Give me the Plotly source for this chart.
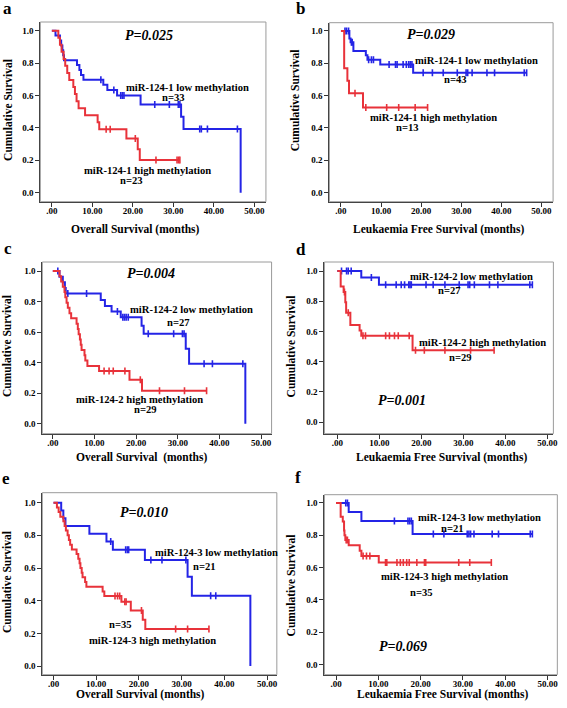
import plotly.graph_objects as go

W, H = 567, 708

# ------------------------------------------------------------------ data
x_ticks = [0, 10, 20, 30, 40, 50]
x_tick_labels = [".00", "10.00", "20.00", "30.00", "40.00", "50.00"]
y_ticks = [0.0, 0.2, 0.4, 0.6, 0.8, 1.0]
y_tick_labels = ["0.0", "0.2", "0.4", "0.6", "0.8", "1.0"]

panel_letters = ["a", "b", "c", "d", "e", "f"]
x_titles = ["Overall Survival (months)", "Leukaemia Free Survival (months)",
            "Overall Survival\u00a0 (months)", "Leukaemia Free Survival (months)",
            "Overall Survival (months)", "Leukaemia Free Survival (months)"]
y_title = "Cumulative Survival"
p_values = ["P=0.025", "P=0.029", "P=0.004", "P=0.001", "P=0.010", "P=0.069"]
low_labels = ["miR-124-1 low methylation", "miR-124-1 low methylation",
              "miR-124-2 low methylation", "miR-124-2 low methylation",
              "miR-124-3 low methylation", "miR-124-3 low methylation"]
high_labels = ["miR-124-1 high methylation", "miR-124-1 high methylation",
               "miR-124-2 high methylation", "miR-124-2 high methylation",
               "miR-124-3 high methylation", "miR-124-3 high methylation"]
low_n = [33, 43, 27, 27, 21, 21]
high_n = [23, 13, 29, 29, 35, 35]

# panel a : overall survival, miR-124-1
a_low_time = [0.9, 2.0, 2.3, 2.6, 2.8, 3.0, 6.2, 6.8, 7.2, 7.8, 12.7, 13.7, 16.1, 21.9, 31.9, 32.5, 46.6]
a_low_surv = [0.970, 0.939, 0.909, 0.879, 0.848, 0.818, 0.788, 0.758, 0.727, 0.697, 0.666, 0.634, 0.600, 0.545, 0.468, 0.393, 0.0]
a_low_cens = [12.1, 15.3, 17.0, 17.4, 17.8, 25.4, 29.0, 31.2, 31.6, 36.5, 36.9, 38.4, 45.8]
a_high_time = [1.6, 2.0, 2.4, 2.9, 3.3, 3.8, 4.3, 5.3, 5.7, 6.1, 6.6, 8.2, 11.3, 11.7, 18.4, 21.2, 21.7]
a_high_surv = [0.957, 0.913, 0.870, 0.826, 0.783, 0.739, 0.696, 0.652, 0.609, 0.565, 0.522, 0.478, 0.435, 0.391, 0.335, 0.268, 0.201]
a_high_cens = [13.4, 14.4, 20.6, 25.7, 30.9, 31.3, 31.6]

# panel b : leukaemia free survival, miR-124-1
b_low_time = [2.1, 2.4, 3.1, 6.2, 6.6, 9.8, 18.0]
b_low_surv = [0.953, 0.930, 0.876, 0.849, 0.822, 0.792, 0.741]
b_low_cens = [1.0, 1.4, 1.9, 2.6, 2.8, 6.9, 7.6, 8.1, 12.0, 13.6, 14.0, 15.5, 16.3, 16.9, 17.3, 17.7,
              20.5, 22.8, 25.5, 29.0, 31.2, 31.6, 32.7, 36.4, 38.3, 45.7, 46.3]
b_high_time = [0.8, 1.6, 2.0, 5.5]
b_high_surv = [0.769, 0.692, 0.615, 0.527]
b_high_cens = [3.5, 6.2, 11.4, 14.4, 18.5, 21.6]

# panel c : overall survival, miR-124-2
c_low_time = [1.6, 2.4, 2.9, 3.1, 11.5, 12.5, 14.1, 16.3, 21.3, 21.8, 31.9, 32.7, 46.2]
c_low_surv = [0.963, 0.926, 0.889, 0.852, 0.811, 0.771, 0.735, 0.697, 0.642, 0.589, 0.491, 0.393, 0.0]
c_low_cens = [1.2, 3.6, 8.1, 15.5, 16.8, 17.2, 17.6, 18.1, 22.9, 29.0, 31.1, 31.5, 36.3, 38.3, 45.6]
c_high_time = [1.6, 2.0, 2.4, 2.8, 3.0, 3.3, 3.6, 4.0, 4.4, 5.7, 6.0, 6.2, 6.5, 6.7, 6.9, 7.6, 7.8, 8.3,
               11.1, 18.4, 21.4]
c_high_surv = [0.966, 0.931, 0.897, 0.862, 0.828, 0.793, 0.759, 0.724, 0.690, 0.655, 0.621, 0.586, 0.552,
               0.517, 0.483, 0.448, 0.414, 0.379, 0.345, 0.288, 0.216]
c_high_cens = [12.3, 13.5, 14.5, 17.3, 21.0, 25.6, 31.6, 36.9]

# panel d : leukaemia free survival, miR-124-2
d_low_time = [5.7, 9.9]
d_low_surv = [0.958, 0.909]
d_low_cens = [1.0, 2.2, 2.6, 3.3, 8.1, 11.5, 14.0, 15.2, 16.0, 17.0, 17.3, 17.6, 21.1, 22.8, 25.6, 29.0,
              31.1, 31.5, 32.6, 36.2, 38.2, 45.8, 46.4]
d_high_time = [0.8, 1.5, 1.9, 2.1, 3.1, 5.3, 5.7, 17.9]
d_high_surv = [0.897, 0.862, 0.793, 0.724, 0.643, 0.607, 0.571, 0.476]
d_high_cens = [1.7, 2.6, 6.1, 6.7, 11.5, 12.4, 13.6, 14.5, 17.1, 18.6, 20.7, 25.6, 31.7, 37.3]

# panel e : overall survival, miR-124-3
e_low_time = [1.8, 2.3, 2.8, 8.4, 12.4, 13.9, 21.4, 31.4, 32.4, 46.1]
e_low_surv = [0.952, 0.905, 0.857, 0.810, 0.762, 0.712, 0.649, 0.547, 0.430, 0.0]
e_low_cens = [13.4, 16.9, 17.3, 17.6, 22.8, 25.4, 31.0, 36.8, 38.0]
e_high_time = [0.8, 1.2, 1.6, 2.3, 2.6, 2.9, 3.3, 3.6, 3.9, 4.3, 5.4, 5.8, 6.1, 6.3, 6.6, 6.8, 7.4, 7.7,
               11.5, 11.9, 15.9, 18.1, 20.9, 21.5]
e_high_surv = [0.971, 0.943, 0.914, 0.886, 0.857, 0.829, 0.800, 0.771, 0.743, 0.714, 0.686, 0.657, 0.629,
               0.600, 0.571, 0.543, 0.514, 0.486, 0.457, 0.429, 0.393, 0.340, 0.283, 0.226]
e_high_cens = [14.4, 15.0, 15.5, 16.7, 17.0, 20.6, 28.6, 31.4, 36.4]

# panel f : leukaemia free survival, miR-124-3
f_low_time = [3.0, 6.0, 18.1]
f_low_surv = [0.944, 0.889, 0.808]
f_low_cens = [2.3, 2.7, 13.8, 17.0, 17.4, 17.8, 23.0, 25.5, 31.0, 31.4, 31.8, 32.6, 36.9, 38.4, 45.9, 46.4]
f_high_time = [1.1, 1.6, 1.9, 2.0, 2.2, 3.0, 5.6, 6.0, 10.1]
f_high_surv = [0.914, 0.886, 0.829, 0.800, 0.771, 0.738, 0.705, 0.672, 0.631]
f_high_cens = [2.4, 2.7, 6.4, 7.2, 8.0, 11.7, 12.0, 14.4, 15.2, 15.9, 16.7, 17.3, 19.1, 20.9, 21.2,
               29.0, 31.6, 36.7]

curves = [
    ((a_low_time, a_low_surv, a_low_cens), (a_high_time, a_high_surv, a_high_cens)),
    ((b_low_time, b_low_surv, b_low_cens), (b_high_time, b_high_surv, b_high_cens)),
    ((c_low_time, c_low_surv, c_low_cens), (c_high_time, c_high_surv, c_high_cens)),
    ((d_low_time, d_low_surv, d_low_cens), (d_high_time, d_high_surv, d_high_cens)),
    ((e_low_time, e_low_surv, e_low_cens), (e_high_time, e_high_surv, e_high_cens)),
    ((f_low_time, f_low_surv, f_low_cens), (f_high_time, f_high_surv, f_high_cens)),
]

# ------------------------------------------------------------------ layout (pixels / positions)
BLUE = "#2424E6"
RED = "#E8323A"
FONT = "Liberation Serif"

panels = [
    dict(box=(40.7, 268.3, 22.0, 201.7), xr=(-2.84, 52.84), yr=(-0.056, 1.054),
         letter=(8, 8), ytitle=(8, 110), xtitle=(137, 229),
         p=(23.9, 0.973), low=(33.4, 0.65), lown=(30.0, 0.586), high=(23.6, 0.136), highn=(19.7, 0.072)),
    dict(box=(332.3, 558.0, 22.7, 201.7), xr=(-2.89, 52.89), yr=(-0.056, 1.051),
         letter=(303, 8), ytitle=(298, 100), xtitle=(442, 229),
         p=(22.5, 0.975), low=(33.9, 0.82), lown=(28.6, 0.70), high=(23.1, 0.466), highn=(16.6, 0.402)),
    dict(box=(42.7, 274.0, 262.0, 433.7), xr=(-2.52, 52.5), yr=(-0.065, 1.059),
         letter=(8, 248.5), ytitle=(7, 346), xtitle=(142.7, 457),
         p=(23.6, 0.985), low=(33.3, 0.749), lown=(30.2, 0.662), high=(20.8, 0.159), highn=(22.2, 0.094)),
    dict(box=(327.3, 558.3, 262.0, 433.7), xr=(-3.07, 51.4), yr=(-0.077, 1.06),
         letter=(304, 249.5), ytitle=(294, 346), xtitle=(445.7, 457),
         p=(15.4, 0.143), low=(31.9, 0.967), lown=(26.7, 0.874), high=(34.5, 0.525), highn=(29.3, 0.426)),
    dict(box=(42.7, 279.3, 492.7, 674.7), xr=(-2.62, 52.3), yr=(-0.053, 1.061),
         letter=(6, 478.7), ytitle=(7, 582), xtitle=(141.7, 694),
         p=(21.1, 0.939), low=(38.2, 0.694), lown=(35.3, 0.612), high=(23.1, 0.157), highn=(15.7, 0.255)),
    dict(box=(327.3, 562.3, 494.7, 674.7), xr=(-2.74, 52.3), yr=(-0.062, 1.051),
         letter=(301, 477.7), ytitle=(294, 585), xtitle=(446.3, 694),
         p=(15.8, 0.115), low=(33.9, 0.913), lown=(27.5, 0.845), high=(25.6, 0.548), highn=(20.1, 0.445)),
]


def step_path(times, surv, cens):
    end = max(times[-1], max(cens) if cens else 0)
    xs = [0.0] + list(times) + [end]
    ys = [1.0] + list(surv) + [surv[-1]]
    return xs, ys


def surv_at(times, surv, t):
    s = 1.0
    for ti, si in zip(times, surv):
        if ti <= t:
            s = si
    return s


fig = go.Figure()
annotations = []
shapes = []
layout = {}

for i, (cfg, (low, high)) in enumerate(zip(panels, curves)):
    n = i + 1
    xname = "x" if n == 1 else f"x{n}"
    yname = "y" if n == 1 else f"y{n}"
    xkey = "xaxis" if n == 1 else f"xaxis{n}"
    ykey = "yaxis" if n == 1 else f"yaxis{n}"
    l, r, t, b = cfg["box"]

    for (times, surv, cens), color in ((low, BLUE), (high, RED)):
        xs, ys = step_path(times, surv, cens)
        fig.add_trace(go.Scatter(x=xs, y=ys, mode="lines", line=dict(color=color, width=2, shape="hv"),
                                 xaxis=xname, yaxis=yname, showlegend=False, hoverinfo="skip"))
        cy = [surv_at(times, surv, c) for c in cens]
        fig.add_trace(go.Scatter(x=cens, y=cy, mode="markers",
                                 marker=dict(symbol="line-ns", size=5, line=dict(color=color, width=1.6)),
                                 xaxis=xname, yaxis=yname, showlegend=False, hoverinfo="skip"))

    layout[xkey] = dict(domain=[l / W, r / W], range=list(cfg["xr"]), anchor=yname,
                        tickmode="array", tickvals=x_ticks,
                        ticktext=[f"<b>{s}</b>" for s in x_tick_labels],
                        tickfont=dict(family=FONT, size=9, color="black"),
                        ticks="outside", ticklen=4, tickcolor="#333", tickwidth=1,
                        ticklabelstandoff=-4,
                        showline=True, linecolor="#444", linewidth=1,
                        showgrid=False, zeroline=False, fixedrange=True)
    layout[ykey] = dict(domain=[1 - b / H, 1 - t / H], range=list(cfg["yr"]), anchor=xname,
                        tickmode="array", tickvals=y_ticks,
                        ticktext=[f"<b>{s}</b>" for s in y_tick_labels],
                        tickfont=dict(family=FONT, size=9, color="black"),
                        ticks="outside", ticklen=4, tickcolor="#333", tickwidth=1,
                        showline=True, linecolor="#444", linewidth=1,
                        showgrid=False, zeroline=False, fixedrange=True)

    shapes.append(dict(type="rect", xref=f"{xname} domain", yref=f"{yname} domain",
                       x0=0, x1=1, y0=0, y1=1, line=dict(color="#9a9a9a", width=1), layer="below"))

    def data_text(txt, pos, size, italic=False):
        s = f"<b>{txt}</b>"
        if italic:
            s = f"<i>{s}</i>"
        annotations.append(dict(text=s, x=pos[0], y=pos[1], xref=xname, yref=yname,
                                showarrow=False, xanchor="center", yanchor="middle",
                                font=dict(family=FONT, size=size, color="black")))

    data_text(p_values[i], cfg["p"], 14, italic=True)
    data_text(low_labels[i], cfg["low"], 10.6)
    data_text(f"n={low_n[i]}", cfg["lown"], 10.6)
    data_text(high_labels[i], cfg["high"], 10.6)
    data_text(f"n={high_n[i]}", cfg["highn"], 10.6)

    lx, ly = cfg["letter"]
    annotations.append(dict(text=f"<b>{panel_letters[i]}</b>", x=lx / W, y=1 - ly / H,
                            xref="paper", yref="paper", showarrow=False,
                            xanchor="center", yanchor="middle",
                            font=dict(family=FONT, size=17, color="black")))
    tx, ty = cfg["xtitle"]
    annotations.append(dict(text=f"<b>{x_titles[i]}</b>", x=tx / W, y=1 - ty / H,
                            xref="paper", yref="paper", showarrow=False,
                            xanchor="center", yanchor="middle",
                            font=dict(family=FONT, size=11.5, color="black")))
    vx, vy = cfg["ytitle"]
    annotations.append(dict(text=f"<b>{y_title}</b>", x=vx / W, y=1 - vy / H,
                            xref="paper", yref="paper", showarrow=False, textangle=-90,
                            xanchor="center", yanchor="middle",
                            font=dict(family=FONT, size=11.5, color="black")))

fig.update_layout(width=W, height=H, margin=dict(l=0, r=0, t=0, b=0),
                  paper_bgcolor="white", plot_bgcolor="white",
                  annotations=annotations, shapes=shapes, **layout)

fig.write_html("out.html", config={"displayModeBar": False},
               post_script="document.body.style.margin='0';document.body.style.padding='0';")
